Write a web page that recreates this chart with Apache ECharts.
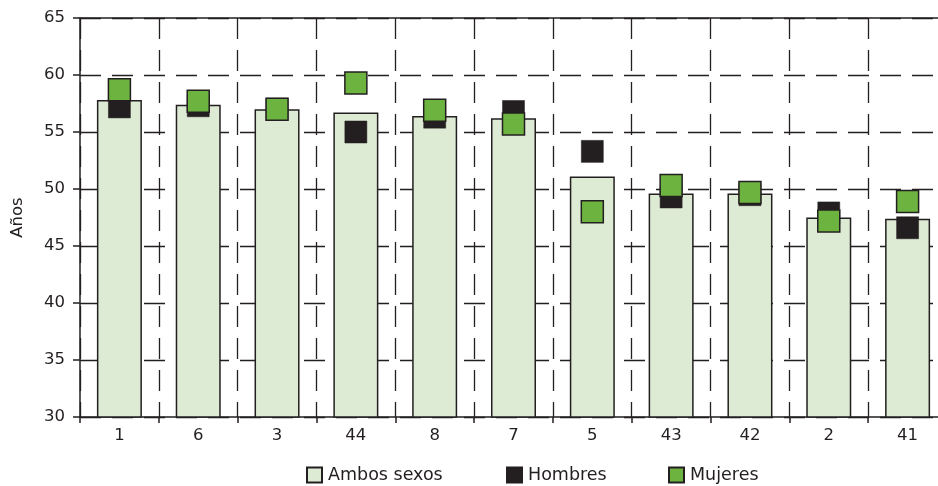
<!DOCTYPE html>
<html>
<head>
<meta charset="utf-8">
<script src="https://cdn.jsdelivr.net/npm/echarts@6/dist/echarts.min.js"></script>
<style>
html,body{margin:0;padding:0;background:#fff;overflow:hidden;}
#chart{width:938px;height:486px;}
</style>
</head>
<body>
<div id="chart"></div>
<script>
var categories = ['1', '6', '3', '44', '8', '7', '5', '43', '42', '2', '41'];
var ambosSexos = [57.8, 57.4, 57.0, 56.7, 56.4, 56.2, 51.1, 49.6, 49.6, 47.5, 47.4];
var hombres = [57.2, 57.3, 57.0, 55.0, 56.3, 56.8, 53.3, 49.3, 49.5, 47.9, 46.6];
var mujeres = [58.7, 57.7, 57.0, 59.3, 56.9, 55.7, 48.0, 50.3, 49.7, 47.2, 48.9];
var yTicks = [30, 35, 40, 45, 50, 55, 60, 65];
var seriesNames = ['Ambos sexos', 'Hombres', 'Mujeres'];
var yAxisTitle = 'Años';

var INK = '#231f20';
var FONT = 'DejaVu Sans';

var chart = echarts.init(document.getElementById('chart'), null, {renderer: 'canvas'});

function legend(name, left) {
  return {
    data: [name],
    left: left,
    top: 466,
    itemWidth: 15,
    itemHeight: 15,
    itemGap: 6,
    icon: 'rect',
    padding: 0,
    selectedMode: false,
    textStyle: {color: INK, fontSize: 17.5, fontFamily: FONT, padding: [0, 0, 0, 1]}
  };
}

chart.setOption({
  animation: false,
  backgroundColor: '#ffffff',
  textStyle: {fontFamily: FONT},
  legend: [
    legend(seriesNames[0], 306),
    legend(seriesNames[1], 506),
    legend(seriesNames[2], 668)
  ],
  grid: {left: 80, width: 867, top: 18, height: 399, containLabel: false, outerBoundsMode: 'none'},
  xAxis: [{
    type: 'category',
    data: categories,
    boundaryGap: true,
    axisLine: {show: true, lineStyle: {color: INK, width: 1.5}},
    axisTick: {show: true, inside: false, length: 6, lineStyle: {color: INK, width: 1.5}},
    axisLabel: {color: INK, fontSize: 16.5, fontFamily: FONT, margin: 10},
    splitLine: {show: true, lineStyle: {color: INK, width: 1.3, type: [21, 11]}}
  }, {
    type: 'category',
    data: categories,
    position: 'top',
    axisLine: {show: true, onZero: false, lineStyle: {color: INK, width: 1.5}},
    axisTick: {show: false},
    axisLabel: {show: false},
    splitLine: {show: false}
  }],
  yAxis: {
    type: 'value',
    min: yTicks[0],
    max: yTicks[yTicks.length - 1],
    interval: 5,
    name: yAxisTitle,
    nameLocation: 'middle',
    nameGap: 54,
    nameRotate: 90,
    nameTextStyle: {color: INK, fontSize: 16.5, fontFamily: FONT},
    axisLine: {show: true, lineStyle: {color: INK, width: 1.5}},
    axisTick: {show: true, inside: false, length: 7, lineStyle: {color: INK, width: 1.5}},
    axisLabel: {color: INK, fontSize: 16.5, fontFamily: FONT, margin: 15},
    splitLine: {show: true, lineStyle: {color: INK, width: 1.3, type: [21, 11]}}
  },
  series: [{
    name: seriesNames[0],
    type: 'bar',
    data: ambosSexos,
    barWidth: 45,
    z: 2,
    itemStyle: {color: '#deebd4', borderColor: INK, borderWidth: 1.5}
  }, {
    name: seriesNames[1],
    type: 'scatter',
    data: hombres,
    symbol: 'rect',
    symbolSize: 22,
    z: 3,
    itemStyle: {color: INK, borderColor: INK, borderWidth: 0.5, opacity: 1}
  }, {
    name: seriesNames[2],
    type: 'scatter',
    data: mujeres,
    symbol: 'rect',
    symbolSize: 22,
    z: 4,
    itemStyle: {color: '#6cb33f', borderColor: INK, borderWidth: 1.5, opacity: 1}
  }]
});
</script>
</body>
</html>
